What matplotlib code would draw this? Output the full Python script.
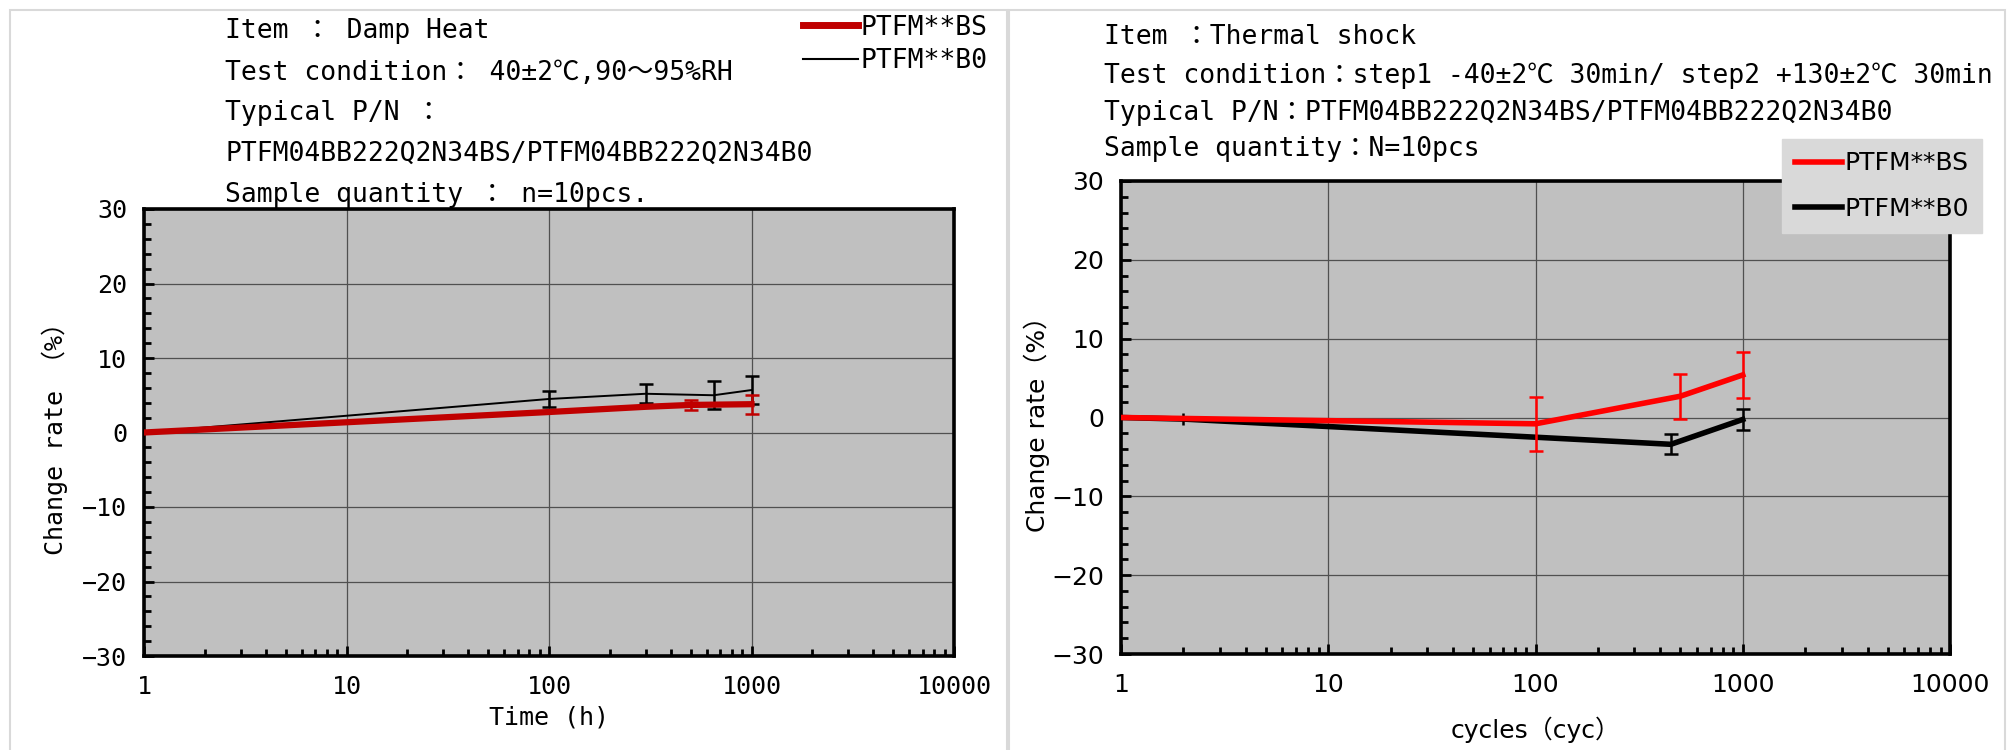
import numpy as np
import matplotlib
matplotlib.use("Agg")
import matplotlib.pyplot as plt
from matplotlib.patches import Rectangle
from matplotlib.lines import Line2D
from matplotlib.ticker import MultipleLocator, LogLocator, NullFormatter

# ---- data ----
# Damp heat (hours)
dh_bs_x = [1, 100, 300, 500, 1000]
dh_bs_y = [0, 2.75, 3.45, 3.7, 3.8]
dh_bs_err = [np.nan, np.nan, np.nan, 0.7, 1.3]

dh_b0_x = [1, 100, 300, 650, 1000]
dh_b0_y = [0, 4.5, 5.2, 5.0, 5.7]
dh_b0_err = [np.nan, 1.05, 1.3, 1.9, 1.9]

# Thermal shock (cycles)
ts_bs_x = [1, 100, 500, 1000]
ts_bs_y = [0, -0.8, 2.7, 5.4]
ts_bs_err = [np.nan, 3.4, 2.85, 2.95]

ts_b0_x = [1, 2, 100, 450, 1000]
ts_b0_y = [0, -0.2, -2.5, -3.4, -0.25]
ts_b0_err = [np.nan, 0.8, np.nan, 1.27, 1.3]

xticks = [1, 10, 100, 1000, 10000]
xticklabels = ["1", "10", "100", "1000", "10000"]
series_names = ["PTFM**BS", "PTFM**B0"]

dh_text = ["Item ： Damp Heat",
           "Test condition： 40±2℃,90～95%RH",
           "Typical P/N ：",
           "PTFM04BB222Q2N34BS/PTFM04BB222Q2N34B0",
           "Sample quantity ： n=10pcs."]
ts_text = ["Item ：Thermal shock",
           "Test condition：step1 -40±2℃ 30min/ step2 +130±2℃ 30min",
           "Typical P/N：PTFM04BB222Q2N34BS/PTFM04BB222Q2N34B0",
           "Sample quantity：N=10pcs"]

W, H = 2013, 750
mono = ["DejaVu Sans Mono", "Noto Sans CJK JP"]
sans = ["DejaVu Sans", "Noto Sans CJK JP"]

def fx(x):
    return x / W

def fy(y):
    return 1 - y / H

fig = plt.figure(figsize=(W / 100, H / 100), dpi=100)

# panel borders
for x0, x1 in [(10, 1007), (1009, 2005)]:
    fig.add_artist(Rectangle((fx(x0), fy(800)), fx(x1 - x0), (800 - 10) / H,
                             transform=fig.transFigure, fill=False,
                             edgecolor="#d9d9d9", lw=1.5))

ax1 = fig.add_axes([fx(144), fy(656), fx(954 - 144), (656 - 209) / H])
ax2 = fig.add_axes([fx(1121), fy(654), fx(1950 - 1121), (654 - 181) / H])


def style(ax, fam, size):
    ax.set_facecolor("#c0c0c0")
    ax.set_xscale("log")
    ax.set_xlim(1, 10000)
    ax.set_ylim(-30, 30)
    ax.set_xticks(xticks, labels=xticklabels)
    ax.xaxis.set_minor_locator(LogLocator(base=10, subs=np.arange(2, 10)))
    ax.xaxis.set_minor_formatter(NullFormatter())
    ax.yaxis.set_major_locator(MultipleLocator(10))
    ax.yaxis.set_minor_locator(MultipleLocator(2))
    ax.grid(True, which="major", color="#505050", lw=0.9)
    ax.set_axisbelow(True)
    for s in ax.spines.values():
        s.set_linewidth(2.6)
        s.set_color("black")
    ax.tick_params(which="both", direction="in", width=2, top=False, right=False)
    ax.tick_params(which="major", length=7)
    ax.tick_params(which="minor", length=5)
    ax.tick_params(axis="y", pad=12)
    ax.tick_params(axis="x", pad=14)
    for lab in ax.get_xticklabels() + ax.get_yticklabels():
        lab.set_fontsize(size)
        lab.set_family(fam)


style(ax1, mono, 18)
style(ax2, sans, 18)

# ---- Damp heat ----
ax1.errorbar(dh_b0_x, dh_b0_y, yerr=dh_b0_err, color="black", lw=1.4,
             elinewidth=1.8, capsize=5, capthick=1.8, zorder=3)
ax1.errorbar(dh_bs_x, dh_bs_y, yerr=dh_bs_err, color="#c00000", lw=4.5,
             elinewidth=1.8, capsize=5, capthick=1.8, zorder=4)
ax1.set_xlabel("Time (h)", fontsize=18, family=mono, labelpad=4)
ax1.set_ylabel("Change rate （%）", fontsize=18, family=mono, labelpad=10)

# ---- Thermal shock ----
# the x=2 point has only a tiny bar with almost no caps
ts_caps = [0 if i == 1 else 5 for i in range(len(ts_b0_x))]
ax2.plot(ts_b0_x, ts_b0_y, color="black", lw=4, zorder=3)
for x, y, e, c in zip(ts_b0_x, ts_b0_y, ts_b0_err, ts_caps):
    if not np.isnan(e):
        ax2.errorbar([x], [y], yerr=[e], color="black", elinewidth=1.8,
                     capsize=c, capthick=1.8, fmt="none", zorder=3)
ax2.errorbar(ts_bs_x, ts_bs_y, yerr=ts_bs_err, color="#ff0000", lw=4,
             elinewidth=1.8, capsize=5, capthick=1.8, zorder=4)
ax2.set_xlabel("cycles（cyc）", fontsize=18, family=sans, labelpad=14)
ax2.set_ylabel("Change rate（%）", fontsize=18, family=sans, labelpad=1)

# header texts
for t, y in zip(dh_text, [31, 73, 113, 154, 195]):
    fig.text(fx(225), fy(y), t, fontsize=19, family=mono, va="center")
for t, y in zip(ts_text, [37, 76, 113, 149]):
    fig.text(fx(1104), fy(y), t, fontsize=19, family=mono, va="center")

# legends
h1 = [Line2D([], [], color="#c00000", lw=5), Line2D([], [], color="black", lw=1.5)]
fig.legend(h1, series_names, loc="upper left", bbox_to_anchor=(fx(792), fy(4)),
           frameon=False, prop={"family": mono, "size": 19}, handlelength=2.1,
           handletextpad=0.1, labelspacing=0.3, borderaxespad=0)

h2 = [Line2D([], [], color="#ff0000", lw=4), Line2D([], [], color="black", lw=4)]
fig.legend(h2, series_names, loc="upper left", bbox_to_anchor=(fx(1782), fy(139)),
           frameon=True, facecolor="#d9d9d9", edgecolor="#d9d9d9", fancybox=False,
           framealpha=1, prop={"family": sans, "size": 18}, handlelength=1.9,
           handletextpad=0.1, labelspacing=0.85, borderpad=0.5, borderaxespad=0)

fig.savefig("out.png", dpi=100)
